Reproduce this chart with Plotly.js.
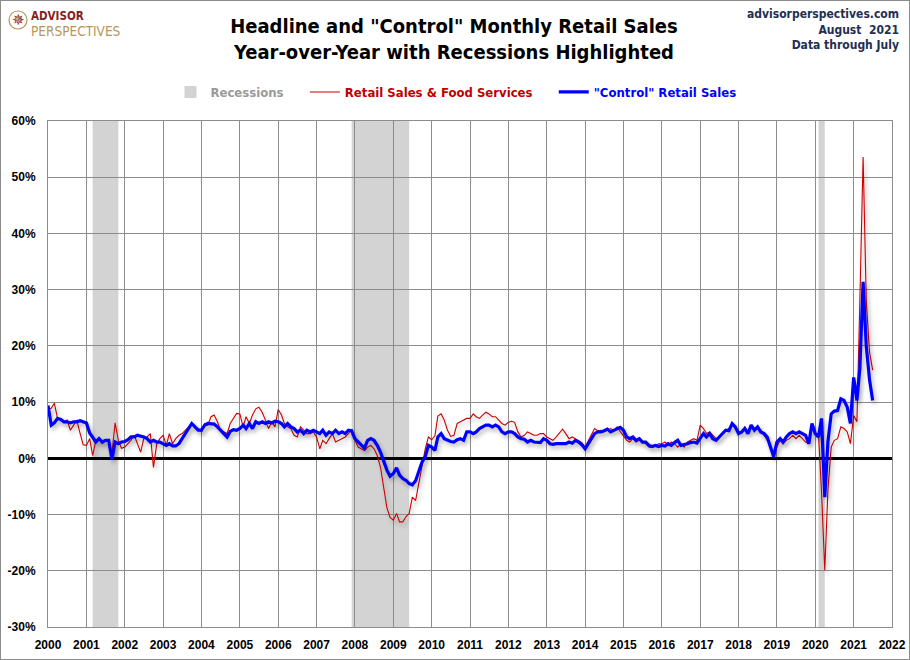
<!DOCTYPE html>
<html>
<head>
<meta charset="utf-8">
<script src="https://cdn.plot.ly/plotly-3.0.1.min.js"></script>
<style>
    html, body { margin: 0; padding: 0; background: #fff; }
    #chart { width: 910px; height: 660px; }
    #frame { position: absolute; left: 0; top: 0; width: 910px; height: 660px;
             box-sizing: border-box; border: 1px solid #8c8c8c; pointer-events: none; }
    /* excel-ish soft shadow under the lines */
    #chart .scatterlayer .js-line { filter: drop-shadow(2px 3px 2px rgba(0, 0, 0, 0.28)); }
</style>
</head>
<body>
<div id="chart"></div>
<div id="frame"></div>
<script>
(function() {
    'use strict';

    // Monthly year-over-year % change, Jan 2000 .. Jul 2021
    var firstMonth = '2000-01';

    var headline = [
        8.8, 8.9, 9.8, 7.1, 6.9, 6.5, 6.8, 5.0, 5.9, 6.8, 4.5, 2.4,        // 2000
        2.3, 3.5, 0.5, 3.2, 3.5, 2.6, 3.2, 2.9, 1.0, 6.3, 3.2, 1.8,        // 2001
        2.0, 2.6, 3.2, 4.1, 2.6, 1.1, 3.5, 3.8, 4.4, -1.6, 2.5, 3.5,       // 2002
        4.1, 2.3, 4.4, 2.6, 3.5, 4.1, 4.4, 5.0, 5.6, 5.9, 5.6, 5.3,        // 2003
        4.7, 6.2, 5.9, 7.4, 7.7, 6.5, 5.0, 4.7, 4.4, 6.2, 7.1, 8.0,        // 2004
        7.9, 5.6, 7.4, 6.2, 7.7, 8.8, 9.1, 8.2, 6.8, 5.3, 6.5, 5.6,        // 2005
        8.7, 7.7, 6.2, 5.6, 5.3, 4.1, 3.8, 5.6, 5.0, 4.4, 4.4, 4.7,        // 2006
        3.8, 1.7, 3.2, 2.6, 3.5, 4.4, 2.9, 3.2, 3.5, 3.8, 4.4, 5.0,        // 2007
        3.2, 2.0, 1.7, 1.4, 2.0, 2.3, 1.7, 0.5, -1.6, -5.0, -8.8, -10.5,   // 2008
        -11.0, -9.8, -11.3, -11.3, -10.4, -9.8, -6.9, -7.5, -4.5, -1.0, 1.7, 3.8, // 2009
        3.3, 4.0, 7.5, 7.9, 6.8, 5.0, 3.9, 4.1, 6.2, 6.5, 6.8, 7.1,        // 2010
        7.1, 7.9, 7.4, 7.1, 7.7, 8.2, 7.9, 7.4, 7.4, 6.8, 6.2, 5.9,        // 2011
        6.4, 6.6, 6.4, 4.7, 3.8, 4.1, 4.7, 4.4, 4.1, 4.1, 4.4, 4.4,        // 2012
        3.8, 3.5, 3.2, 3.8, 4.4, 5.2, 4.4, 3.5, 3.8, 3.5, 3.2, 2.8,        // 2013
        2.0, 3.2, 4.4, 5.3, 4.9, 5.0, 4.7, 5.0, 5.3, 5.0, 5.6, 4.8,        // 2014
        4.1, 3.2, 2.9, 3.5, 2.9, 3.2, 2.9, 2.6, 2.0, 2.0, 2.3, 2.6,        // 2015
        2.6, 2.9, 2.3, 2.9, 2.6, 2.0, 2.6, 2.0, 2.9, 3.2, 3.5, 3.2,        // 2016
        5.9, 5.3, 4.4, 4.7, 4.1, 3.5, 3.8, 4.4, 5.0, 5.3, 6.2, 5.3,        // 2017
        4.7, 4.7, 5.6, 4.7, 5.9, 5.3, 5.3, 5.0, 4.1, 3.2, 2.3, 0.8,        // 2018
        2.0, 3.2, 2.6, 3.2, 3.5, 4.1, 3.5, 4.1, 3.5, 2.9, 2.6, 5.3,        // 2019
        4.4, 4.4, -6.0, -19.9, -5.6, 2.0, 3.2, 3.5, 5.6, 5.3, 4.7, 2.6,    // 2020
        7.6, 6.5, 28.0, 53.6, 28.0, 18.9, 15.7                             // 2021
    ];

    var control = [
        9.4, 5.9, 6.3, 7.1, 6.9, 6.5, 6.5, 6.3, 6.5, 6.5, 6.7, 6.5,        // 2000
        6.3, 4.5, 3.8, 2.9, 3.5, 2.9, 3.2, 3.2, -0.2, 2.9, 2.6, 2.9,       // 2001
        3.0, 3.3, 3.8, 3.8, 4.1, 4.0, 3.8, 3.5, 2.9, 3.2, 2.9, 2.9,        // 2002
        2.6, 2.3, 2.6, 2.2, 2.2, 2.6, 3.5, 4.4, 5.3, 6.2, 5.6, 5.0,        // 2003
        5.0, 5.9, 6.2, 6.2, 6.1, 5.6, 5.0, 4.4, 3.8, 4.8, 5.1, 5.0,        // 2004
        5.3, 5.9, 5.3, 6.2, 5.3, 6.5, 6.2, 6.5, 6.2, 6.5, 6.3, 6.6,        // 2005
        6.5, 6.2, 5.6, 6.2, 5.6, 5.3, 4.7, 5.0, 4.4, 5.0, 4.7, 5.0,        // 2006
        4.7, 4.4, 5.0, 4.1, 4.7, 4.4, 5.0, 4.4, 4.7, 4.4, 5.0, 4.9,        // 2007
        3.5, 2.9, 2.3, 1.8, 3.2, 3.5, 3.2, 2.3, 1.1, -0.7, -2.1, -3.2,     // 2008
        -2.7, -1.7, -3.0, -3.6, -3.9, -4.5, -4.7, -4.0, -2.1, -0.7, 0.3, 2.3, // 2009
        2.0, 1.4, 3.8, 4.4, 3.5, 3.2, 3.0, 2.9, 3.3, 3.5, 3.2, 4.7,        // 2010
        4.7, 4.4, 4.7, 5.3, 5.6, 5.9, 5.9, 5.6, 5.9, 5.6, 4.7, 4.4,        // 2011
        4.7, 4.7, 4.4, 3.8, 3.5, 3.4, 2.9, 3.2, 2.9, 2.9, 2.8, 3.5,        // 2012
        3.2, 2.6, 2.5, 2.6, 2.6, 2.7, 2.6, 2.9, 2.7, 3.2, 2.9, 2.4,        // 2013
        1.7, 2.6, 3.5, 4.4, 4.7, 4.7, 4.9, 5.2, 4.7, 5.0, 5.2, 5.5,        // 2014
        5.0, 3.8, 3.5, 3.8, 3.2, 3.5, 2.9, 2.9, 2.3, 2.1, 2.3, 2.1,        // 2015
        2.3, 2.2, 2.6, 2.3, 2.8, 3.2, 2.3, 2.4, 2.6, 2.8, 2.9, 2.7,        // 2016
        3.5, 4.4, 3.8, 4.4, 3.5, 3.2, 3.8, 4.4, 5.0, 4.9, 6.2, 5.6,        // 2017
        4.4, 4.7, 5.3, 4.4, 5.9, 5.0, 5.6, 4.7, 4.4, 3.8, 2.0, 0.3,        // 2018
        2.9, 3.5, 2.9, 3.8, 4.4, 4.7, 4.4, 4.7, 4.4, 4.1, 2.6, 6.2,        // 2019
        4.4, 3.8, 7.1, -6.9, 3.0, 7.9, 8.4, 8.5, 10.6, 10.3, 9.1, 6.2,     // 2020
        14.4, 10.3, 16.0, 31.4, 20.0, 14.0, 10.3                           // 2021
    ];

    var recessionStart = ['2001-03-01', '2007-12-01', '2020-02-01'];
    var recessionEnd = ['2001-11-01', '2009-06-01', '2020-04-01'];

    var yTicks = [-30, -20, -10, 0, 10, 20, 30, 40, 50, 60];

    var NARROW = '"Liberation Sans Narrow", "Arial Narrow", "DejaVu Sans Condensed", sans-serif';
    var SANS = '"Liberation Sans", Arial, sans-serif';
    var RED = '#cc0000';
    var BLUE = '#0000ff';
    var GRID = '#8c8c8c';
    var NAVY = '#1f2f50';
    var PAD = '\u00a0\u00a0\u00a0\u00a0';   // extra room between legend entries

    // plot area in pixels, used to place the header texts
    var M = { l: 48, r: 18, t: 121, b: 33 };
    var PW = 910 - M.l - M.r;
    var PH = 660 - M.t - M.b;
    function px(x) { return (x - M.l) / PW; }
    function py(y) { return (660 - M.b - y) / PH; }

    function monthDates(start, n) {
        var parts = start.split('-');
        var y = +parts[0], m = +parts[1] - 1;
        var out = [];
        for (var i = 0; i < n; i++) {
            var yy = y + Math.floor((m + i) / 12);
            var mm = (m + i) % 12 + 1;
            out.push(yy + '-' + (mm < 10 ? '0' : '') + mm + '-01');
        }
        return out;
    }

    var dates = monthDates(firstMonth, headline.length);

    var traces = [
        {
            name: '<span style="color:#c00000">Retail Sales &amp; Food Services</span>' + PAD,
            x: dates,
            y: headline,
            type: 'scatter',
            mode: 'lines',
            line: { color: RED, width: 1.1 },
            legendrank: 2,
            hoverinfo: 'skip'
        },
        {
            name: '<span style="color:#0000ff">"Control" Retail Sales</span>',
            x: dates.slice(0, control.length),
            y: control,
            type: 'scatter',
            mode: 'lines',
            line: { color: BLUE, width: 3.2 },
            legendrank: 3,
            hoverinfo: 'skip'
        }
    ];

    var shapes = recessionStart.map(function(s, i) {
        return {
            type: 'rect',
            xref: 'x', yref: 'paper',
            x0: s, x1: recessionEnd[i], y0: 0, y1: 1,
            fillcolor: '#d3d3d3',
            line: { width: 0 },
            layer: 'below',
            name: '<span style="color:#9a9a9a">Recessions</span>' + PAD,
            showlegend: i === 0,
            legendrank: 1
        };
    });

    // ring round the logo star
    shapes.push({
        type: 'circle', xref: 'paper', yref: 'paper',
        x0: px(9), x1: px(27), y0: py(29), y1: py(11),
        line: { color: '#b8955a', width: 1.2 }
    });

    function note(text, x, y, anchor, size, color, family) {
        return {
            text: text, xref: 'paper', yref: 'paper',
            x: px(x), y: py(y), xanchor: anchor, yanchor: 'middle',
            align: anchor === 'right' ? 'right' : 'left',
            showarrow: false,
            font: { size: size, color: color, family: family || NARROW }
        };
    }

    var annotations = [
        note('<b>advisorperspectives.com</b><br><b>August\u00a0\u00a02021</b><br><b>Data through July</b>',
             901, 30, 'right', 12, NAVY),
        note('\u2735', 18, 20, 'center', 15, '#8b1c1c', '"DejaVu Sans", sans-serif'),
        note('<b>ADVISOR</b>', 29, 16.5, 'left', 11.5, '#8b1c1c'),
        note('PERSPECTIVES', 29, 30.5, 'left', 13.5, '#b8955a')
    ];

    var layout = {
        width: 910,
        height: 660,
        margin: M,
        paper_bgcolor: '#ffffff',
        plot_bgcolor: '#ffffff',
        font: { family: SANS, color: '#000' },
        title: {
            text: '<b>Headline and "Control" Monthly Retail Sales</b><br><b>Year-over-Year with Recessions Highlighted</b>',
            font: { family: NARROW, size: 20, color: '#000' },
            xref: 'paper', x: px(454),
            yref: 'container', y: 1 - 33 / 660, yanchor: 'top'
        },
        showlegend: true,
        legend: {
            orientation: 'h',
            x: px(456), xanchor: 'center',
            y: py(92), yanchor: 'middle',
            font: { family: NARROW, size: 13, weight: 'bold' },
            itemwidth: 30,
            bgcolor: 'rgba(0,0,0,0)'
        },
        xaxis: {
            type: 'date',
            range: ['2000-01-01', '2022-01-01'],
            tick0: '2000-01-01',
            dtick: 'M12',
            tickformat: '%Y',
            showgrid: true,
            gridcolor: GRID,
            gridwidth: 1,
            showline: true,
            mirror: true,
            linecolor: GRID,
            linewidth: 1,
            zeroline: false,
            ticks: '',
            ticklabelstandoff: 7,
            tickfont: { family: SANS, size: 12, weight: 'bold' },
            fixedrange: true
        },
        yaxis: {
            range: [-30, 60],
            tickvals: yTicks,
            ticktext: yTicks.map(function(v) { return v + '%'; }),
            showgrid: true,
            gridcolor: GRID,
            gridwidth: 1,
            showline: true,
            mirror: true,
            linecolor: GRID,
            linewidth: 1,
            zeroline: true,
            zerolinecolor: '#000',
            zerolinewidth: 2.5,
            ticks: '',
            ticklabelstandoff: 9,
            tickfont: { family: SANS, size: 12, weight: 'bold' },
            fixedrange: true
        },
        shapes: shapes,
        annotations: annotations,
        hovermode: false
    };

    Plotly.newPlot('chart', traces, layout, { displayModeBar: false, staticPlot: true });
})();
</script>
</body>
</html>
